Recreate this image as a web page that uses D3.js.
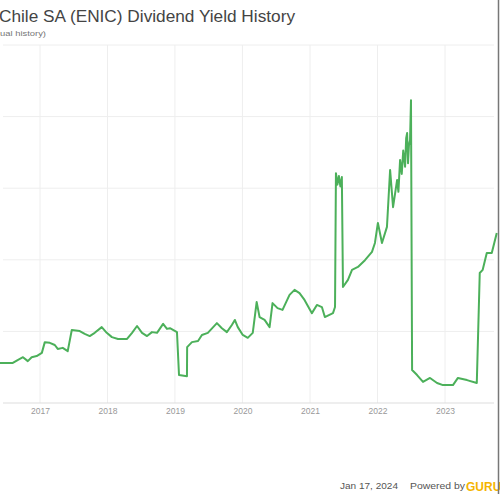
<!DOCTYPE html>
<html>
<head>
<meta charset="utf-8">
<script src="https://cdn.jsdelivr.net/npm/d3@7"></script>
<style>
  html, body { margin: 0; padding: 0; background: #fff; }
  svg { display: block; font-family: "Liberation Sans", Arial, sans-serif; }
</style>
</head>
<body>
<svg id="chart" width="500" height="500"></svg>
<script>
const titleText = "Chile SA (ENIC) Dividend Yield History";
const subtitleText = "ual history)";
const dateLabel = "Jan 17, 2024";
const poweredText = "Powered by";
const yearTicks = ["2017", "2018", "2019", "2020", "2021", "2022", "2023"];
const yTicks = [0, 2, 4, 6, 8, 10];

const dates = [
  "2016-05-29","2016-08-07","2016-09-02","2016-10-01","2016-10-27","2016-11-17","2016-12-14",
  "2017-01-11","2017-01-27","2017-02-23","2017-03-22","2017-04-07","2017-05-04","2017-05-31",
  "2017-06-22","2017-08-04","2017-08-31","2017-09-27","2017-10-24","2017-12-01","2017-12-28",
  "2018-01-25","2018-02-27","2018-04-17","2018-05-14","2018-06-10","2018-07-07","2018-08-03",
  "2018-08-30","2018-09-26","2018-10-29","2018-11-19","2018-12-05","2019-01-12","2019-01-23",
  "2019-03-07","2019-03-08","2019-04-03","2019-05-06","2019-05-27","2019-06-28","2019-08-16",
  "2019-09-12","2019-10-09","2019-11-05","2019-11-21","2019-12-07","2020-01-03","2020-01-30",
  "2020-02-26","2020-03-18","2020-04-03","2020-04-30","2020-05-27","2020-06-12","2020-07-09",
  "2020-08-05","2020-09-12","2020-10-09","2020-11-05","2020-12-02","2021-01-11","2021-02-07",
  "2021-03-06","2021-03-22","2021-05-05","2021-05-16","2021-05-21","2021-05-29","2021-06-06","2021-06-14","2021-06-22",
  "2021-06-28","2021-07-25","2021-08-16","2021-09-17","2021-10-25","2021-12-02","2021-12-18",
  "2022-01-03","2022-01-25","2022-02-21","2022-03-10","2022-03-26","2022-04-17","2022-04-24","2022-05-03",
  "2022-05-12","2022-05-20","2022-05-30","2022-06-05","2022-06-10","2022-06-15","2022-06-20","2022-06-26","2022-07-01","2022-07-07","2022-08-03",
  "2022-09-04","2022-10-12","2022-11-19","2022-12-21","2023-02-13","2023-03-12","2023-04-30",
  "2023-06-22","2023-07-08","2023-07-24","2023-08-15","2023-09-11","2023-10-08"
];
const yields = [
  1.12,1.12,1.20,1.28,1.17,1.28,1.31,
  1.40,1.70,1.68,1.62,1.51,1.54,1.45,
  2.04,2.01,1.93,1.87,1.96,2.12,1.96,
  1.84,1.79,1.79,1.96,2.15,1.96,1.87,
  1.98,1.96,2.21,2.07,2.09,1.98,0.78,
  0.75,1.56,1.70,1.73,1.90,1.96,2.23,
  2.09,1.98,2.18,2.32,2.12,1.90,1.82,
  1.96,2.82,2.40,2.32,2.12,2.79,2.65,
  2.60,3.02,3.16,3.07,2.88,2.51,2.74,
  2.68,2.40,2.51,2.68,6.42,6.10,6.34,6.05,6.31,
  3.24,3.44,3.72,3.80,3.99,4.22,4.47,
  5.03,4.47,4.92,6.51,5.47,6.23,5.90,6.79,
  6.40,7.05,6.60,7.40,7.54,6.70,7.20,7.35,8.46,0.92,0.78,
  0.59,0.70,0.56,0.50,0.50,0.70,0.64,
  0.56,3.63,3.72,4.19,4.19,4.75
];

const parse = d3.timeParse("%Y-%m-%d");
const series = dates.map((d, i) => ({ date: parse(d), value: yields[i] }));

const svg = d3.select("#chart");

const x = d3.scaleTime()
  .domain([new Date(2017, 0, 1), new Date(2023, 0, 1)])
  .range([40, 445]);
const y = d3.scaleLinear().domain([0, 10]).range([403, 45]);

// gridlines
const grid = svg.append("g");
grid.selectAll("line.h").data(yTicks.slice(1)).join("line")
  .attr("x1", 3).attr("x2", 494)
  .attr("y1", d => y(d)).attr("y2", d => y(d))
  .attr("stroke", "#eeeeee").attr("stroke-width", 1);
grid.selectAll("line.v").data(yearTicks).join("line")
  .attr("x1", d => x(new Date(+d, 0, 1))).attr("x2", d => x(new Date(+d, 0, 1)))
  .attr("y1", 45).attr("y2", 403)
  .attr("stroke", "#eeeeee").attr("stroke-width", 1);

// x axis
const xAxis = d3.axisBottom(x)
  .tickValues(yearTicks.map(d => new Date(+d, 0, 1)))
  .tickFormat(d3.timeFormat("%Y"))
  .tickSize(0).tickPadding(5);
const gx = svg.append("g").attr("transform", "translate(0,403)").call(xAxis);
gx.select(".domain").attr("d", "M3,0H494").attr("stroke", "#dddddd");
gx.selectAll("text").attr("fill", "#999999").attr("font-size", 8.5);

// line
const line = d3.line().x(d => x(d.date)).y(d => y(d.value)).curve(d3.curveLinear);
svg.append("path").datum(series)
  .attr("d", line)
  .attr("fill", "none")
  .attr("stroke", "#4cb05a")
  .attr("stroke-width", 2)
  .attr("stroke-linejoin", "round");

// title
svg.append("text").attr("x", -1).attr("y", 22)
  .attr("font-size", 16).attr("fill", "#444444")
  .attr("textLength", 296).attr("lengthAdjust", "spacingAndGlyphs")
  .text(titleText);
svg.append("text").attr("x", 0).attr("y", 36)
  .attr("font-size", 8).attr("fill", "#777777")
  .attr("textLength", 46).attr("lengthAdjust", "spacingAndGlyphs").text(subtitleText);

// footer
svg.append("text").attr("x", 340).attr("y", 489)
  .attr("font-size", 9).attr("fill", "#555555")
  .attr("textLength", 58).attr("lengthAdjust", "spacingAndGlyphs").text(dateLabel);
svg.append("text").attr("x", 410).attr("y", 489)
  .attr("font-size", 9).attr("fill", "#555555")
  .attr("textLength", 55).attr("lengthAdjust", "spacingAndGlyphs").text(poweredText);
svg.append("text").attr("x", 466).attr("y", 491)
  .attr("font-size", 12).attr("font-weight", "bold").attr("fill", "#f5b400").text("GURU");

// right border
svg.append("line").attr("x1", 498.5).attr("x2", 498.5).attr("y1", 0).attr("y2", 494)
  .attr("stroke", "#777777").attr("stroke-width", 1.5);
</script>
</body>
</html>
